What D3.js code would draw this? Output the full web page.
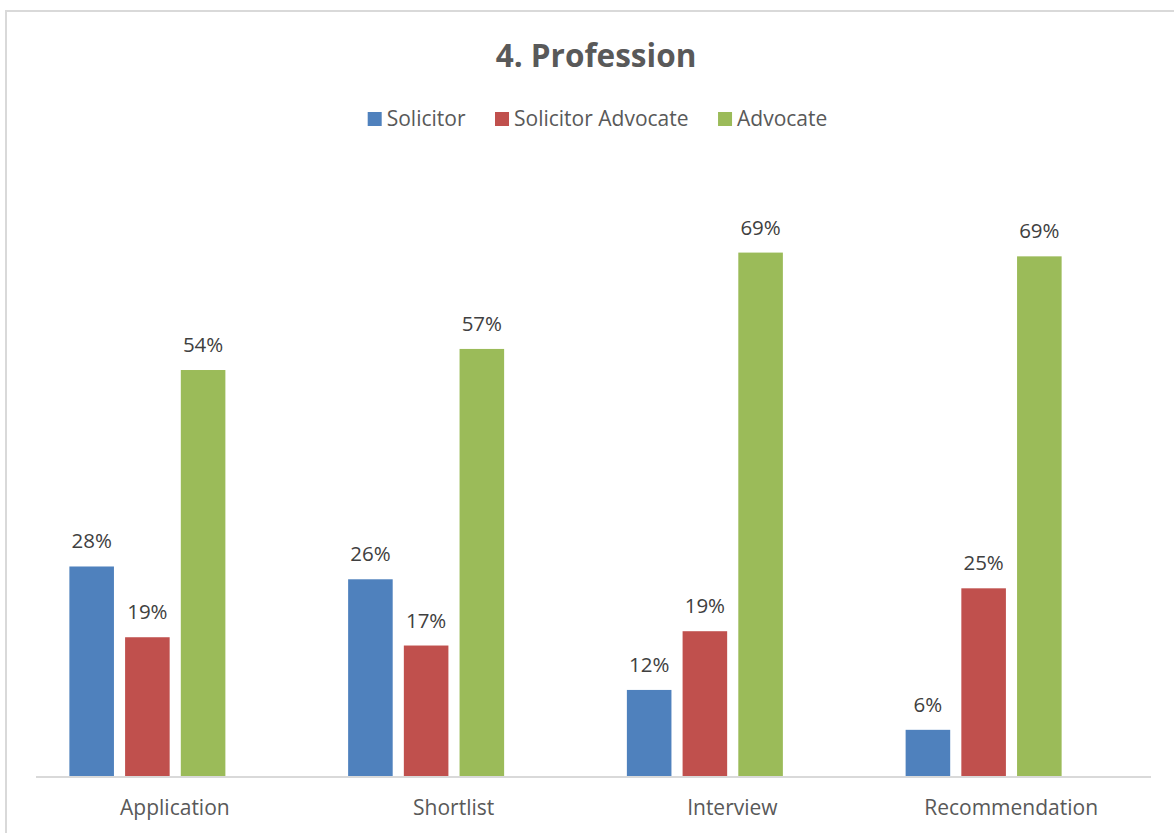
<!DOCTYPE html>
<html>
<head>
<meta charset="utf-8">
<script src="https://cdn.jsdelivr.net/npm/d3@7"></script>
<style>
    body { margin: 0; background: #fff; }
    svg text { font-family: "Open Sans", sans-serif; }
</style>
</head>
<body>
<div id="chart"></div>
<script>
'use strict';

// chart data
const categories = ["Application", "Shortlist", "Interview", "Recommendation"];
const seriesNames = ["Solicitor", "Solicitor Advocate", "Advocate"];
const solicitor = [27.9, 26.2, 11.5, 6.2];
const solicitorAdvocate = [18.5, 17.4, 19.3, 25.0];
const advocate = [54.0, 56.8, 69.6, 69.1];
const valueLabels = [
    ["28%", "26%", "12%", "6%"],
    ["19%", "17%", "19%", "25%"],
    ["54%", "57%", "69%", "69%"]
];

(function() {

    let svg = ""
    const colors = ["#4F81BD", "#C0504D", "#9BBB59"]
    const size = { width: 1174, height: 833 }

    window.onload = function() {
        svg = d3.select("#chart").append("svg")
            .attr("width", size.width)
            .attr("height", size.height);

        // chart border (right/bottom edges fall outside the picture)
        svg.append("rect")
            .attr("x", 6).attr("y", 11)
            .attr("width", 1200).attr("height", 900)
            .attr("fill", "white")
            .attr("stroke", "#d9d9d9")
            .attr("stroke-width", 2);

        makeBars();
        drawLegend();

        svg.append("text")
            .attr("x", 596)
            .attr("y", 67)
            .attr("text-anchor", "middle")
            .style("font-size", "31.5px")
            .style("font-weight", "bold")
            .style("fill", "#595959")
            .text("4. Profession");
    }

    function makeBars() {
        let allSeries = [solicitor, solicitorAdvocate, advocate];

        let x0 = d3.scaleBand()
            .domain(categories)
            .range([35.5, 1150.5]);

        let x1 = d3.scaleBand()
            .domain(seriesNames)
            .range([0, 156])
            .paddingInner(0.2);

        let y = d3.scaleLinear()
            .domain([0, 80])
            .range([776.5, 174.3]);

        // bars sit a bit left of the category label centre, as in the original
        let groupLeft = (c) => x0(c) + x0.bandwidth() / 2 - 27.5 - 78;

        let rows = [];
        allSeries.forEach(function(vals, s) {
            vals.forEach(function(v, i) {
                rows.push({ s: s, cat: categories[i], value: v, label: valueLabels[s][i] });
            });
        });

        svg.selectAll("rect.bar")
            .data(rows)
            .enter()
            .append("rect")
            .attr("class", "bar")
            .attr("x", d => groupLeft(d.cat) + x1(seriesNames[d.s]))
            .attr("y", d => y(d.value))
            .attr("width", x1.bandwidth())
            .attr("height", d => y(0) - y(d.value))
            .style("fill", d => colors[d.s]);

        svg.selectAll("text.val")
            .data(rows)
            .enter()
            .append("text")
            .attr("class", "val")
            .attr("x", d => groupLeft(d.cat) + x1(seriesNames[d.s]) + x1.bandwidth() / 2)
            .attr("y", d => y(d.value) - 18)
            .attr("text-anchor", "middle")
            .style("font-size", "20.5px")
            .style("fill", "#404040")
            .text(d => d.label);

        let xAxis = d3.axisBottom(x0)
            .tickSize(0)
            .tickSizeOuter(0)
            .tickPadding(24);

        let ax = svg.append("g")
            .attr("transform", "translate(0,776.5)")
            .call(xAxis);
        ax.select(".domain")
            .attr("stroke", "#d9d9d9")
            .attr("stroke-width", 2);
        ax.selectAll(".tick text")
            .style("font-family", "'Open Sans', sans-serif")
            .style("font-size", "21px")
            .style("fill", "#595959");
    }

    function drawLegend() {
        let g = svg.append("g");
        let xPos = 0;
        seriesNames.forEach(function(name, i) {
            g.append("rect")
                .attr("x", xPos).attr("y", 112)
                .attr("width", 14).attr("height", 14)
                .style("fill", colors[i]);
            let t = g.append("text")
                .attr("x", xPos + 19)
                .attr("y", 126)
                .style("font-size", "21px")
                .style("fill", "#595959")
                .text(name);
            xPos += 19 + t.node().getComputedTextLength() + 29.5;
        });
        let total = xPos - 29.5;
        g.attr("transform", "translate(" + (597.5 - total / 2) + ",0)");
    }
})()
</script>
</body>
</html>
